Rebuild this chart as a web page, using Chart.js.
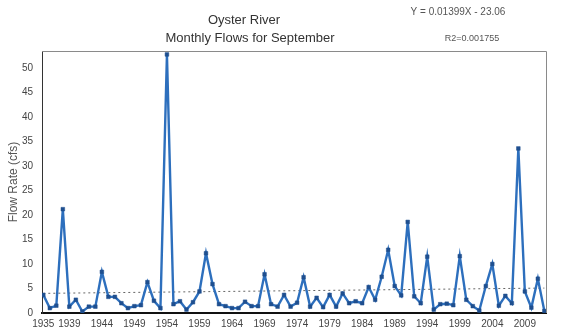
<!DOCTYPE html>
<html>
<head>
<meta charset="utf-8">
<script src="https://cdn.jsdelivr.net/npm/chart.js@4/dist/chart.umd.min.js"></script>
<style>
  html, body { margin: 0; padding: 0; background: #fff; }
  #wrap { width: 575px; height: 335px; position: relative; }
</style>
</head>
<body>
<div id="wrap"><canvas id="chart" width="575" height="335"></canvas></div>
<script>
// September mean flows, Oyster River (cfs)
const years = [
  1935, 1936, 1937, 1938, 1939, 1940, 1941, 1942, 1943, 1944,
  1945, 1946, 1947, 1948, 1949, 1950, 1951, 1952, 1953, 1954,
  1955, 1956, 1957, 1958, 1959, 1960, 1961, 1962, 1963, 1964,
  1965, 1966, 1967, 1968, 1969, 1970, 1971, 1972, 1973, 1974,
  1975, 1976, 1977, 1978, 1979, 1980, 1981, 1982, 1983, 1984,
  1985, 1986, 1987, 1988, 1989, 1990, 1991, 1992, 1993, 1994,
  1995, 1996, 1997, 1998, 1999, 2000, 2001, 2002, 2003, 2004,
  2005, 2006, 2007, 2008, 2009, 2010, 2011, 2012
];
const flows = [
  3.7, 1.0, 1.5, 21.2, 1.3, 2.7, 0.3, 1.3, 1.3, 8.4,
  3.3, 3.3, 2.0, 1.0, 1.4, 1.6, 6.3, 2.5, 1.0, 52.8,
  1.8, 2.4, 0.7, 2.2, 4.4, 12.2, 5.9, 1.8, 1.4, 1.0,
  1.0, 2.3, 1.4, 1.4, 7.9, 1.8, 1.3, 3.7, 1.3, 2.1,
  7.3, 1.3, 3.1, 1.2, 3.7, 1.3, 4.0, 2.0, 2.4, 2.0,
  5.3, 2.7, 7.4, 12.9, 5.5, 3.6, 18.6, 3.4, 2.0, 11.5,
  0.7, 1.8, 1.9, 1.6, 11.6, 2.7, 1.4, 0.5, 5.5, 10.0,
  1.5, 3.5, 2.0, 33.6, 4.4, 1.1, 7.0, 0.4
];
const xTickYears = [1935, 1939, 1944, 1949, 1954, 1959, 1964, 1969, 1974, 1979, 1984, 1989, 1994, 1999, 2004, 2009];
const yTickValues = [0, 5, 10, 15, 20, 25, 30, 35, 40, 45, 50];

// Linear trend as printed on the chart
const trendSlope = 0.01399;
const trendIntercept = -23.06;
const trendLabel = 'Y = 0.01399X - 23.06';
const r2Label = 'R2=0.001755';
const titleLines = ['Oyster River', 'Monthly Flows for September'];

const flowPoints = years.map((yr, i) => ({ x: yr, y: flows[i] }));
const trendEnds = [years[0], years[years.length - 1]];
const trendPoints = trendEnds.map(yr => ({ x: yr, y: trendSlope * yr + trendIntercept }));

const FONT = "'Liberation Sans', Arial, sans-serif";

// Frame around the plot area plus titles and trend annotation
const decorations = {
  id: 'decorations',
  beforeDatasetsDraw(chart) {
    const { ctx, chartArea: a } = chart;
    ctx.save();
    ctx.strokeStyle = '#8a8a8a';
    ctx.lineWidth = 1;
    ctx.beginPath();
    ctx.moveTo(a.left, a.top + 0.5);
    ctx.lineTo(a.right + 0.5, a.top + 0.5);
    ctx.lineTo(a.right + 0.5, a.bottom);
    ctx.stroke();
    ctx.restore();
  },
  afterDraw(chart) {
    const { ctx } = chart;
    ctx.save();
    ctx.fillStyle = '#333';
    ctx.textAlign = 'center';
    ctx.textBaseline = 'middle';
    ctx.font = '13px ' + FONT;
    ctx.fillText(titleLines[0], 244, 20);
    ctx.fillText(titleLines[1], 250, 38);
    ctx.fillStyle = '#555';
    ctx.font = '10px ' + FONT;
    ctx.fillText(trendLabel, 458, 12);
    ctx.font = '9px ' + FONT;
    ctx.fillText(r2Label, 472, 39);
    ctx.restore();
  }
};

new Chart(document.getElementById('chart'), {
  type: 'line',
  data: {
    datasets: [
      {
        label: 'Flow',
        data: flowPoints,
        borderColor: '#2d6fbd',
        borderWidth: 2.4,
        pointStyle: 'rect',
        pointRadius: 2.6,
        pointBackgroundColor: '#1f4f8f',
        pointBorderColor: '#1f4f8f',
        pointBorderWidth: 0.5,
        tension: 0,
        order: 1
      },
      {
        label: 'Trend',
        data: trendPoints,
        borderColor: '#666',
        borderWidth: 1,
        borderDash: [2, 3],
        pointRadius: 0,
        tension: 0,
        order: 2
      }
    ]
  },
  options: {
    responsive: false,
    animation: false,
    events: [],
    layout: { padding: { left: 0, top: 51, right: 29, bottom: 0 } },
    plugins: {
      legend: { display: false },
      title: { display: false },
      tooltip: { enabled: false }
    },
    scales: {
      x: {
        type: 'linear',
        min: 1934.8,
        max: 2012.25,
        afterBuildTicks(scale) { scale.ticks = xTickYears.map(v => ({ value: v })); },
        afterFit(scale) { scale.height = 22; },
        grid: { display: false, drawTicks: false },
        border: { display: true, color: '#111', width: 2 },
        ticks: {
          autoSkip: false,
          maxRotation: 0,
          padding: 5,
          color: '#444',
          font: { family: FONT, size: 10 },
          callback: v => String(v)
        }
      },
      y: {
        min: 0,
        max: 53.5,
        afterBuildTicks(scale) { scale.ticks = yTickValues.map(v => ({ value: v })); },
        afterFit(scale) { scale.width = 42; },
        grid: { display: false, drawTicks: false },
        border: { display: true, color: '#333', width: 1 },
        title: {
          display: true,
          text: 'Flow Rate (cfs)',
          color: '#555',
          font: { family: FONT, size: 12 },
          padding: { top: 6, bottom: 0 }
        },
        ticks: {
          padding: 9,
          color: '#444',
          font: { family: FONT, size: 10 }
        }
      }
    }
  },
  plugins: [decorations]
});
</script>
</body>
</html>
